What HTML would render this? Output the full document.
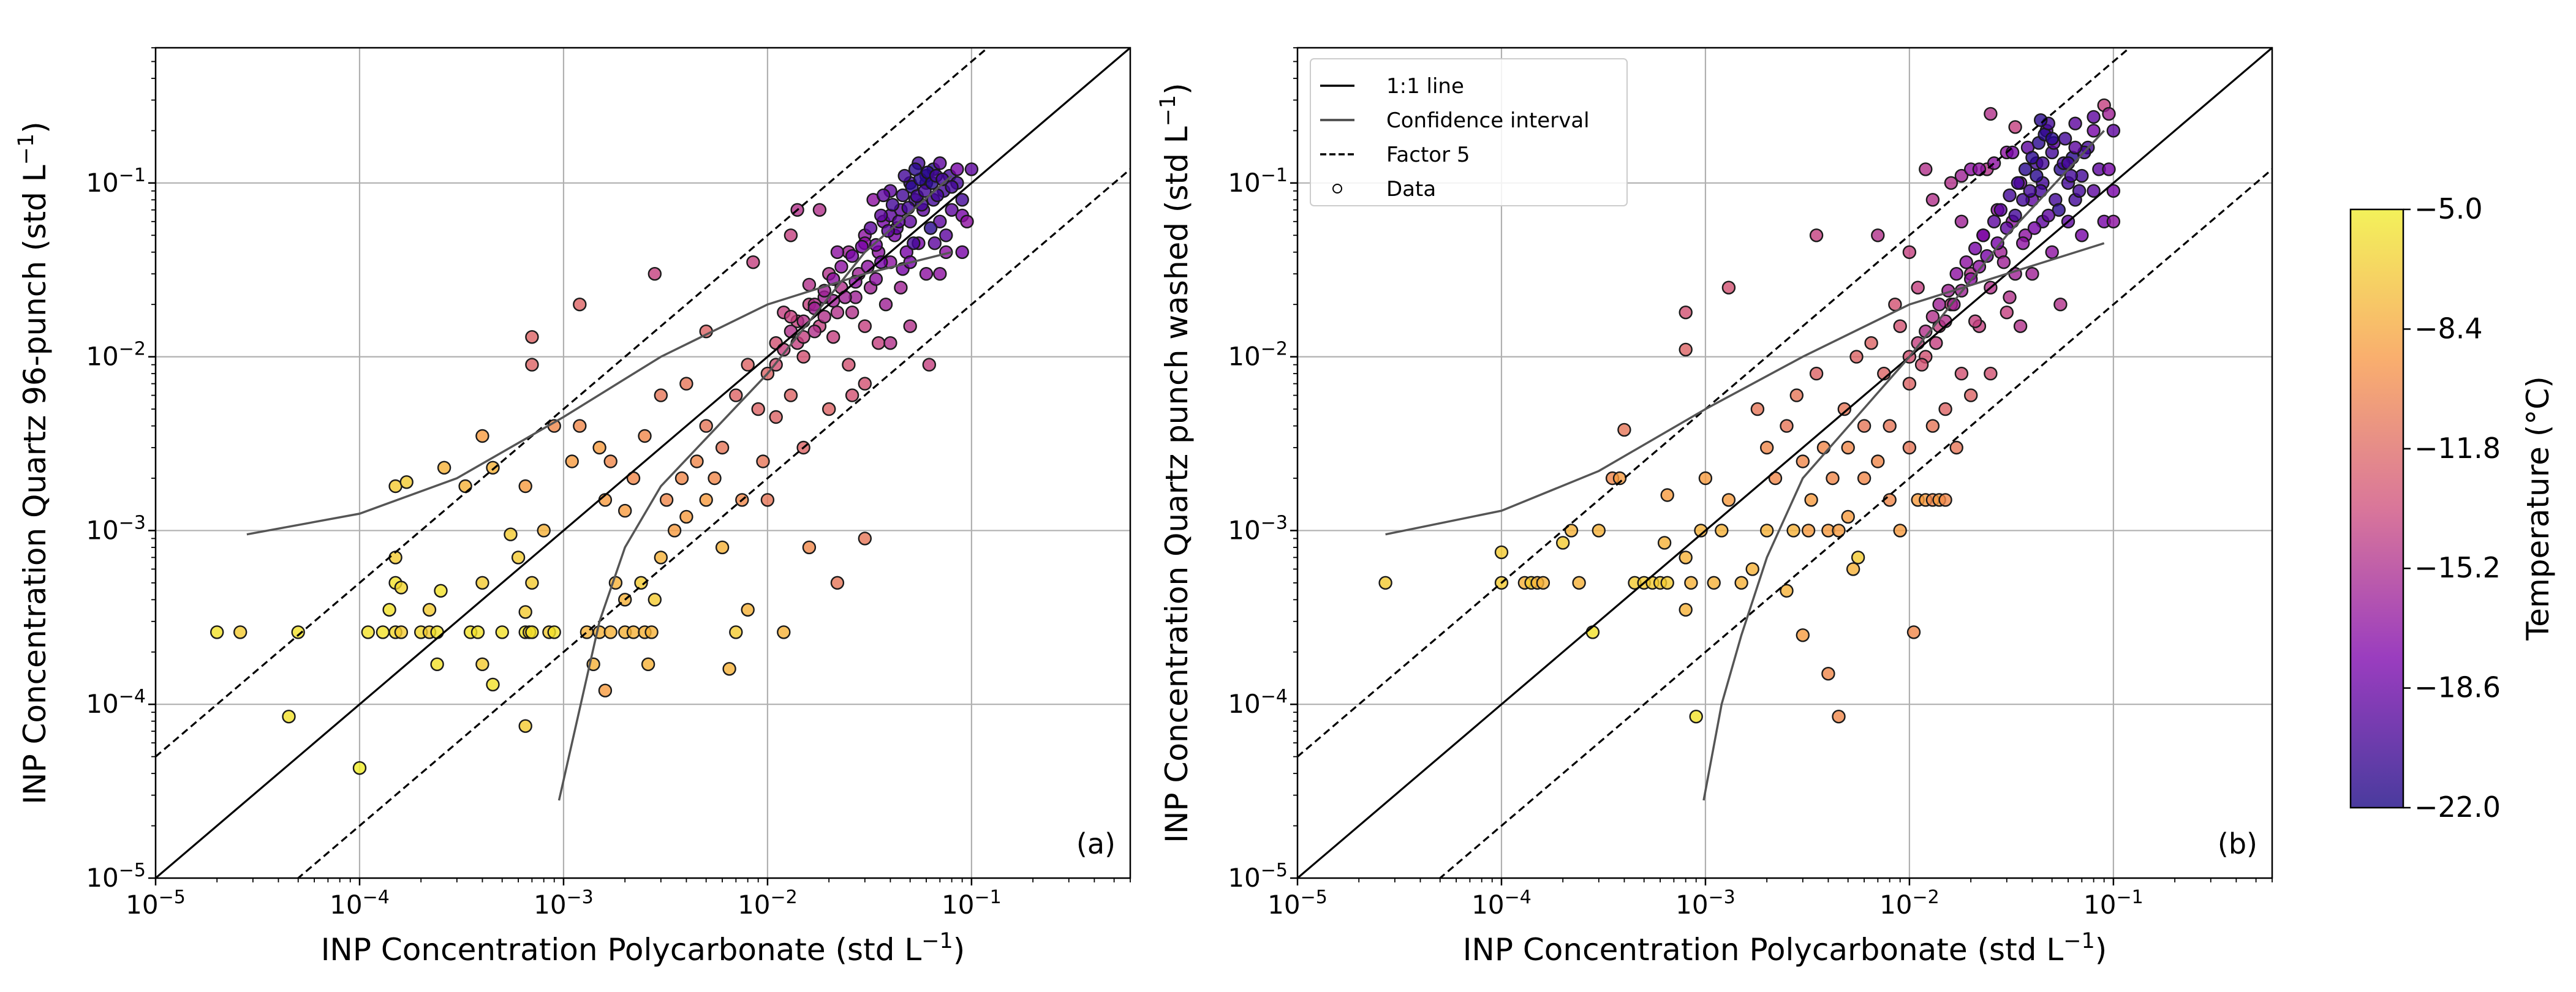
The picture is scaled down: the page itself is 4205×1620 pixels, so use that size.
<!DOCTYPE html>
<html><head><meta charset="utf-8">
<style>
html,body{margin:0;padding:0;background:#fff;width:4205px;height:1620px;overflow:hidden;}
svg{display:block;font-family:"DejaVu Sans","Liberation Sans",sans-serif;}
</style></head>
<body>
<svg id="fig" width="4205" height="1620" viewBox="0 0 4205 1620" xmlns="http://www.w3.org/2000/svg">
<defs>
<linearGradient id="cbgrad" x1="0" y1="1" x2="0" y2="0">
<stop offset="0" stop-color="#4a3b9e"/>
<stop offset="0.25" stop-color="#9a3dbf"/>
<stop offset="0.5" stop-color="#d9769a"/>
<stop offset="0.75" stop-color="#f9ae6e"/>
<stop offset="1" stop-color="#f3f15a"/>
</linearGradient>
</defs>
<g id="root"></g>
</svg>
<script>
// ---- data: panel (a) ----
const xA=[2e-5,2.6e-5,5e-5,4.5e-5,1e-4,1.1e-4,1.3e-4,1.5e-4,1.6e-4,1.4e-4,1.5e-4,1.6e-4,1.5e-4,1.7e-4,1.5e-4,2e-4,2.2e-4,2.4e-4,2.2e-4,2.4e-4,2.6e-4,2.5e-4,3.3e-4,3.5e-4,3.8e-4,4e-4,4.5e-4,4e-4,4e-4,4.5e-4,5e-4,5.5e-4,6e-4,6.5e-4,6.8e-4,7e-4,6.5e-4,6.5e-4,7e-4,7e-4,7e-4,6.5e-4,8e-4,8.5e-4,9e-4,9e-4,1.1e-3,1.3e-3,1.5e-3,1.4e-3,1.6e-3,1.7e-3,2e-3,2.2e-3,2.5e-3,2.7e-3,2.6e-3,1.2e-3,1.2e-3,1.6e-3,1.8e-3,2e-3,2.4e-3,2.8e-3,3e-3,1.5e-3,1.7e-3,2e-3,2.2e-3,2.5e-3,2.8e-3,3e-3,3.2e-3,3.5e-3,3.8e-3,4e-3,4.5e-3,5e-3,5e-3,5.5e-3,6e-3,6e-3,6.5e-3,7e-3,7e-3,7.5e-3,8e-3,8e-3,9e-3,9.5e-3,1e-2,1.1e-2,1.1e-2,1.2e-2,1.3e-2,1.2e-2,1.3e-2,1.5e-2,1.5e-2,1.6e-2,1.6e-2,1.8e-2,1.8e-2,2e-2,2e-2,2.1e-2,2.2e-2,2.3e-2,2.5e-2,2.5e-2,2.6e-2,2.8e-2,3e-2,3e-2,3e-2,3.2e-2,3.3e-2,3.5e-2,3.5e-2,3.7e-2,3.8e-2,4e-2,4e-2,4.2e-2,4.5e-2,4.5e-2,4.8e-2,5e-2,5e-2,5e-2,5.3e-2,5.5e-2,5.5e-2,5.8e-2,6e-2,6e-2,6.2e-2,6.5e-2,6.5e-2,7e-2,7e-2,7.3e-2,7.5e-2,7.8e-2,8e-2,8.5e-2,8.5e-2,9e-2,9.5e-2,1e-1,3e-2,1.4e-2,1e-2,8.5e-3,5e-3,4e-3,2.6e-2,4e-2,7e-2,9e-2,3.6e-2,4.3e-2,5.2e-2,5.7e-2,6.3e-2,6.8e-2,4.6e-2,3.4e-2,2.7e-2,2.2e-2,1.9e-2,1.7e-2,1.4e-2,6e-2,8e-2,5e-2,4e-2,3e-2,7.5e-2,9e-2,6.6e-2,
1.1e-2,1.2e-2,1.3e-2,1.4e-2,1.5e-2,1.5e-2,1.7e-2,1.7e-2,1.9e-2,1.9e-2,2.1e-2,2.1e-2,2.3e-2,2.4e-2,2.6e-2,2.7e-2,2.9e-2,3.1e-2,3.2e-2,3.4e-2,3.6e-2,3.9e-2,4.1e-2,4.4e-2,4.6e-2,4.9e-2,5.1e-2,5.4e-2,5.6e-2,5.9e-2,6.1e-2,6.4e-2,6.7e-2,7.2e-2,4.7e-2,5.3e-2,3.7e-2,2.2e-2,1.6e-2,1.3e-2];
const yA=[2.6e-4,2.6e-4,2.6e-4,8.5e-5,4.3e-5,2.6e-4,2.6e-4,2.6e-4,2.6e-4,3.5e-4,5e-4,4.7e-4,1.8e-3,1.9e-3,7e-4,2.6e-4,2.6e-4,2.6e-4,3.5e-4,1.7e-4,2.3e-3,4.5e-4,1.8e-3,2.6e-4,2.6e-4,1.7e-4,1.3e-4,5e-4,3.5e-3,2.3e-3,2.6e-4,9.5e-4,7e-4,2.6e-4,2.6e-4,2.6e-4,7.5e-5,1.8e-3,1.3e-2,9e-3,5e-4,3.4e-4,1e-3,2.6e-4,2.6e-4,4e-3,2.5e-3,2.6e-4,2.6e-4,1.7e-4,1.2e-4,2.6e-4,2.6e-4,2.6e-4,2.6e-4,2.6e-4,1.7e-4,2e-2,4e-3,1.5e-3,5e-4,4e-4,5e-4,4e-4,7e-4,3e-3,2.5e-3,1.3e-3,2e-3,3.5e-3,3e-2,6e-3,1.5e-3,1e-3,2e-3,1.2e-3,2.5e-3,1.5e-3,4e-3,2e-3,3e-3,8e-4,1.6e-4,2.6e-4,6e-3,1.5e-3,3.5e-4,9e-3,5e-3,2.5e-3,8e-3,1.2e-2,4.5e-3,2.6e-4,5e-2,1.8e-2,6e-3,1e-2,3e-3,8e-4,2e-2,1.5e-2,7e-2,5e-3,3e-2,1.3e-2,5e-4,2.5e-2,4e-2,9e-3,1.8e-2,3e-2,5e-2,1.5e-2,7e-3,2.5e-2,8e-2,4e-2,1.2e-2,6e-2,2e-2,3.5e-2,9e-2,5e-2,7e-2,2.5e-2,4e-2,1e-1,6e-2,1.5e-2,8e-2,4.5e-2,1.3e-1,7e-2,1e-1,3e-2,9e-3,8e-2,1.2e-1,6e-2,1.3e-1,9e-2,4e-2,1.1e-1,7e-2,1e-1,1.2e-1,6.5e-2,6e-2,1.2e-1,9e-4,7e-2,1.5e-3,3.5e-2,1.4e-2,7e-3,6e-3,1.2e-2,3e-2,4e-2,3.5e-2,5.5e-2,4.5e-2,7.5e-2,5.5e-2,8.5e-2,3.2e-2,2.8e-2,2.2e-2,1.8e-2,2.2e-2,2e-2,1.6e-2,1.1e-1,9.5e-2,3.5e-2,6.5e-2,4.5e-2,5e-2,8e-2,4.5e-2,
9e-3,1.1e-2,1.4e-2,1.2e-2,1.6e-2,1.3e-2,1.9e-2,1.4e-2,2.4e-2,1.7e-2,2.8e-2,2.1e-2,3.3e-2,2.2e-2,3.8e-2,2.7e-2,4.3e-2,3.3e-2,5.5e-2,4.4e-2,6.5e-2,5.3e-2,7.5e-2,6e-2,8.5e-2,7.2e-2,9.5e-2,8.4e-2,1.05e-1,9e-2,1.15e-1,1e-1,1.1e-1,1.05e-1,1.1e-1,1.2e-1,8.5e-2,4e-2,2.6e-2,1.7e-2];
const tA=[-6,-7,-6,-6,-5.5,-6,-6,-6.5,-7,-6,-6,-6.5,-7,-7,-7,-6.5,-7,-6,-7,-6,-8,-6,-8,-6,-6,-7,-6,-7,-9,-8,-6,-7,-7,-6,-7,-6,-7,-9,-12,-12,-7,-7,-8,-7,-6,-10,-9,-8,-8,-8,-9,-8,-8,-8,-8,-8,-8,-12,-10,-9,-8,-8,-7,-7,-8,-9,-10,-9,-10,-10,-14,-11,-10,-9,-10,-9,-10,-9,-11,-10,-11,-8,-8,-7,-12,-10,-8,-12,-12,-11,-12,-13,-12,-8,-14,-14,-12,-13,-12,-10,-14,-14,-15,-12,-15,-14,-11,-15,-16,-13,-15,-16,-17,-14,-13,-16,-17,-17,-14,-18,-16,-17,-19,-18,-19,-16,-18,-20,-19,-15,-20,-18,-20,-19,-20,-17,-14,-20,-21,-19,-19,-20,-17,-20,-19,-20,-18,-18,-17,-19,-11,-15,-11,-14,-12,-11,-13,-15,-17,-18,-18,-19,-20,-20,-21,-20,-18,-17,-16,-15,-16,-15,-14,-21,-20,-18,-19,-17,-19,-20,-19,
-13,-14,-15,-14,-15,-14,-16,-15,-16,-15,-17,-16,-17,-16,-18,-17,-18,-17,-19,-18,-19,-19,-20,-19,-20,-20,-21,-20,-21,-20,-21,-21,-20,-20,-20,-21,-19,-17,-15,-14];
// ---- data: panel (b) ----
const xB=[2.7e-5,1e-4,1e-4,1.3e-4,1.4e-4,1.5e-4,1.6e-4,2e-4,2.2e-4,2.4e-4,2.8e-4,3e-4,3.5e-4,3.8e-4,4e-4,4.5e-4,5e-4,5.5e-4,6e-4,6.5e-4,6.3e-4,6.5e-4,8e-4,8e-4,8e-4,8e-4,9e-4,8.5e-4,9.5e-4,1e-3,1.1e-3,1.2e-3,1.3e-3,1.3e-3,1.5e-3,1.7e-3,1.8e-3,2e-3,2e-3,2.2e-3,2.5e-3,2.5e-3,2.7e-3,2.8e-3,3e-3,3e-3,3.2e-3,3.3e-3,3.5e-3,3.5e-3,3.8e-3,4e-3,4e-3,4.2e-3,4.5e-3,4.5e-3,4.8e-3,5e-3,5e-3,5.3e-3,5.6e-3,5.5e-3,6e-3,6e-3,6.5e-3,7e-3,7e-3,7.5e-3,8e-3,8e-3,8.5e-3,9e-3,9e-3,1e-2,1e-2,1.05e-2,1.1e-2,1.1e-2,1.2e-2,1.3e-2,1.4e-2,1.5e-2,1.2e-2,1.3e-2,1.3e-2,1.4e-2,1.5e-2,1.6e-2,1.6e-2,1.7e-2,1.8e-2,1.8e-2,2e-2,2e-2,2e-2,2.2e-2,2.3e-2,2.4e-2,2.5e-2,2.5e-2,2.7e-2,2.8e-2,3e-2,3e-2,3.2e-2,3.3e-2,3.5e-2,3.5e-2,3.7e-2,3.8e-2,4e-2,4e-2,4.2e-2,4.5e-2,4.5e-2,4.7e-2,5e-2,5e-2,5.2e-2,5.5e-2,5.5e-2,5.8e-2,6e-2,6e-2,6.3e-2,6.5e-2,6.5e-2,7e-2,7e-2,7.5e-2,8e-2,8e-2,8.5e-2,9e-2,9e-2,1e-1,1e-1,9.5e-2,2.5e-2,3.3e-2,1e-2,1.2e-2,4.4e-2,5.4e-2,6.2e-2,3.6e-2,4.8e-2,6.8e-2,2.9e-2,5.7e-2,4.1e-2,3.1e-2,2.1e-2,7.2e-2,5.1e-2,
1e-2,1.1e-2,1.15e-2,1.2e-2,1.3e-2,1.35e-2,1.4e-2,1.5e-2,1.55e-2,1.65e-2,1.7e-2,1.8e-2,1.9e-2,2e-2,2.1e-2,2.2e-2,2.3e-2,2.4e-2,2.6e-2,2.7e-2,2.8e-2,3e-2,3.1e-2,3.3e-2,3.4e-2,3.6e-2,3.7e-2,3.9e-2,4e-2,4.2e-2,4.3e-2,4.5e-2,4.6e-2,4.8e-2,4.4e-2,5e-2,3.2e-2,2.6e-2,2.2e-2,1.8e-2,6.5e-2,6e-2,8e-2,9.5e-2,1e-1];
const yB=[5e-4,5e-4,7.5e-4,5e-4,5e-4,5e-4,5e-4,8.5e-4,1e-3,5e-4,2.6e-4,1e-3,2e-3,2e-3,3.8e-3,5e-4,5e-4,5e-4,5e-4,5e-4,8.5e-4,1.6e-3,1.8e-2,1.1e-2,7e-4,3.5e-4,8.5e-5,5e-4,1e-3,2e-3,5e-4,1e-3,2.5e-2,1.5e-3,5e-4,6e-4,5e-3,1e-3,3e-3,2e-3,4.5e-4,4e-3,1e-3,6e-3,2.5e-3,2.5e-4,1e-3,1.5e-3,5e-2,8e-3,3e-3,1e-3,1.5e-4,2e-3,1e-3,8.5e-5,5e-3,3e-3,1.2e-3,6e-4,7e-4,1e-2,4e-3,2e-3,1.2e-2,2.5e-3,5e-2,8e-3,1.5e-3,4e-3,2e-2,1e-3,1.5e-2,3e-3,7e-3,2.6e-4,1.5e-3,2.5e-2,1.5e-3,1.5e-3,1.5e-3,1.5e-3,1e-2,8e-2,4e-3,1.5e-2,5e-3,1e-1,2e-2,3e-3,1.1e-1,8e-3,3e-2,1.2e-1,6e-3,1.5e-2,5e-2,1.2e-1,2.5e-2,8e-3,7e-2,4e-2,1.5e-1,1.8e-2,6e-2,3e-2,1e-1,1.5e-2,5e-2,1.6e-1,8e-2,3e-2,1.3e-1,6e-2,1e-1,2e-1,4e-2,1.5e-1,8e-2,1.2e-1,2e-2,1.8e-1,1e-1,6e-2,1.4e-1,2.2e-1,8e-2,1.1e-1,5e-2,1.6e-1,9e-2,2e-1,1.2e-1,2.8e-1,6e-2,2e-1,6e-2,2.5e-1,2.5e-1,2.1e-1,4e-2,1.2e-1,9e-2,7e-2,1.1e-1,4.5e-2,6.5e-2,9e-2,3.5e-2,1.3e-1,5.5e-2,2.2e-2,1.6e-2,1.5e-1,1.7e-1,
1e-2,1.2e-2,9e-3,1.4e-2,1.7e-2,1.2e-2,2e-2,1.6e-2,2.4e-2,2e-2,3e-2,2.4e-2,3.5e-2,2.8e-2,4.2e-2,3.3e-2,5e-2,3.8e-2,6e-2,4.5e-2,7e-2,5.5e-2,8.5e-2,6.5e-2,1e-1,8e-2,1.2e-1,9e-2,1.4e-1,1.1e-1,1.7e-1,1.3e-1,1.9e-1,2.2e-1,2.3e-1,1.8e-1,1.5e-1,1.3e-1,1.2e-1,6e-2,1.6e-1,1.3e-1,2.4e-1,1.2e-1,9e-2];
const tB=[-7,-7,-7,-8,-7,-8,-8,-7,-8,-8,-6,-8,-10,-9,-11,-7,-7,-7,-7,-7,-8,-9,-13,-12,-8,-8,-6,-8,-8,-9,-8,-8,-13,-9,-8,-8,-11,-8,-10,-10,-8,-11,-8,-11,-10,-9,-9,-9,-14,-12,-10,-9,-10,-10,-9,-10,-11,-10,-9,-8,-7,-12,-11,-10,-12,-10,-15,-12,-10,-11,-13,-9,-13,-11,-12,-10,-9,-14,-9,-10,-9,-10,-13,-15,-11,-14,-12,-15,-14,-11,-16,-13,-15,-17,-12,-14,-16,-15,-15,-13,-17,-16,-17,-14,-17,-16,-18,-15,-17,-19,-19,-16,-20,-19,-20,-19,-17,-20,-20,-21,-15,-20,-20,-19,-21,-19,-20,-20,-18,-20,-19,-18,-19,-14,-18,-19,-17,-16,-15,-14,-14,-15,-20,-21,-20,-17,-19,-20,-16,-20,-18,-15,-14,-20,-19,
-13,-14,-13,-15,-15,-14,-16,-15,-16,-16,-17,-16,-17,-17,-18,-17,-18,-18,-19,-18,-19,-19,-20,-20,-20,-20,-21,-20,-21,-21,-21,-20,-21,-20,-21,-21,-18,-17,-17,-16,-19,-20,-19,-18,-18];
// confidence interval curves
const ciUpAx=[2.8e-5,1e-4,3e-4,1e-3,3e-3,1e-2,3e-2,8e-2];
const ciUpAy=[9.5e-4,1.25e-3,2e-3,4.5e-3,1e-2,2e-2,3e-2,4e-2];
const ciLoAx=[9.5e-4,1.1e-3,1.5e-3,2e-3,3e-3,1e-2,3e-2,8e-2];
const ciLoAy=[2.8e-5,6e-5,3e-4,8e-4,1.8e-3,8e-3,4e-2,1.1e-1];
const ciUpBx=[2.7e-5,1e-4,3e-4,1e-3,3e-3,1e-2,3e-2,9e-2];
const ciUpBy=[9.5e-4,1.3e-3,2.2e-3,5e-3,1e-2,2e-2,3e-2,4.5e-2];
const ciLoBx=[9.8e-4,1.2e-3,1.5e-3,2e-3,3e-3,1e-2,3e-2,9e-2];
const ciLoBy=[2.8e-5,1e-4,2.5e-4,7e-4,2e-3,1e-2,5e-2,2e-1];
const cbTicks=[-5.0,-8.4,-11.8,-15.2,-18.6,-22.0];
const xTickExp=[-5,-4,-3,-2,-1];
const yTickExp=[-5,-4,-3,-2,-1];

const NS="http://www.w3.org/2000/svg";
const root=document.getElementById('root');
function el(tag,attrs,parent){const e=document.createElementNS(NS,tag);for(const k in attrs)e.setAttribute(k,attrs[k]);(parent||root).appendChild(e);return e;}
const LMIN=-5,LMAX=Math.log10(0.6);
const TOP=78,BOT=1434;
function mkScale(x0,x1){return{x:v=>x0+(Math.log10(v)-LMIN)/(LMAX-LMIN)*(x1-x0),y:v=>BOT-(Math.log10(v)-LMIN)/(LMAX-LMIN)*(BOT-TOP)};}
const stops=[[0,[13,8,135]],[0.25,[126,3,168]],[0.5,[204,71,120]],[0.75,[248,149,64]],[1,[240,249,33]]];
function cmap(t){let f=(t+22)/17;f=Math.max(0,Math.min(1,f));for(let i=0;i<4;i++){const a=stops[i],b=stops[i+1];if(f<=b[0]){const u=(f-a[0])/(b[0]-a[0]);const c=a[1].map((v,j)=>Math.round(v+(b[1][j]-v)*u));return 'rgb('+c.join(',')+')';}}return 'rgb(240,249,33)';}

function panel(x0,x1,xs,ys,ts,cux,cuy,clx,cly,tag,letter,ylabel,legend){
  const s=mkScale(x0,x1);
  const g=el('g',{});
  
  
  xTickExp.forEach(e=>{const l=el('line',{x1:s.x(Math.pow(10,e)),x2:s.x(Math.pow(10,e)),y1:TOP,y2:BOT,stroke:'#b0b0b0','stroke-width':2.2},g);});
  yTickExp.forEach(e=>{const l=el('line',{y1:s.y(Math.pow(10,e)),y2:s.y(Math.pow(10,e)),x1:x0,x2:x1,stroke:'#b0b0b0','stroke-width':2.2},g);});
  const clipId='clip'+tag;
  const cp=el('clipPath',{id:clipId},g);el('rect',{x:x0,y:TOP,width:x1-x0,height:BOT-TOP},cp);
  const pg=el('g',{'clip-path':'url(#'+clipId+')'},g);
  for(let i=0;i<xs.length;i++){
    const c=el('circle',{cx:s.x(xs[i]).toFixed(1),cy:s.y(ys[i]).toFixed(1),r:10,fill:cmap(ts[i]),'fill-opacity':0.8,stroke:'#1a1a1a','stroke-width':2.4},pg);
    
    
  }
  const lo=1e-6,hi=10;
  const one=el('line',{x1:s.x(lo),y1:s.y(lo),x2:s.x(hi),y2:s.y(hi),stroke:'#000','stroke-width':3.2},pg);
  
  const f1=el('line',{x1:s.x(lo),y1:s.y(lo*5),x2:s.x(hi),y2:s.y(hi*5),stroke:'#000','stroke-width':3.2,'stroke-dasharray':'12,7'},pg);
  
  const f2=el('line',{x1:s.x(lo),y1:s.y(lo/5),x2:s.x(hi),y2:s.y(hi/5),stroke:'#000','stroke-width':3.2,'stroke-dasharray':'12,7'},pg);
  
  const pu=el('polyline',{points:cux.map((v,i)=>s.x(v).toFixed(1)+','+s.y(cuy[i]).toFixed(1)).join(' '),fill:'none',stroke:'#555','stroke-width':3.5},pg);
  
  const pl=el('polyline',{points:clx.map((v,i)=>s.x(v).toFixed(1)+','+s.y(cly[i]).toFixed(1)).join(' '),fill:'none',stroke:'#555','stroke-width':3.5},pg);
  
  const fr=el('rect',{x:x0,y:TOP,width:x1-x0,height:BOT-TOP,fill:'none',stroke:'#000','stroke-width':2.5},g);
  
  for(let e=-5;e<=0;e++){for(let m=1;m<10;m++){const v=m*Math.pow(10,e);if(Math.log10(v)>LMAX+1e-9)break;const big=m===1;const L=big?12:7;
    const px=s.x(v),py=s.y(v);
    el('line',{x1:px,x2:px,y1:BOT,y2:BOT+L,stroke:'#000','stroke-width':big?2.5:1.8},g);
    el('line',{x1:x0,x2:x0-L,y1:py,y2:py,stroke:'#000','stroke-width':big?2.5:1.8},g);}}
  xTickExp.forEach(e=>{const t=el('text',{x:s.x(Math.pow(10,e)),y:BOT+58,'text-anchor':'middle','font-size':42},g);t.innerHTML='10<tspan dy="-17" font-size="30">\u2212'+(-e)+'</tspan>';});
  yTickExp.forEach(e=>{const t=el('text',{x:x0-16,y:s.y(Math.pow(10,e))+14,'text-anchor':'end','font-size':42},g);t.innerHTML='10<tspan dy="-17" font-size="30">\u2212'+(-e)+'</tspan>';});
  const xl=el('text',{x:(x0+x1)/2,y:1568,'text-anchor':'middle','font-size':50},g);
  xl.innerHTML='INP Concentration Polycarbonate (std L<tspan dy="-20" font-size="35">\u22121</tspan><tspan dy="20">)</tspan>';
  
  const ylx=x0-180,yly=(TOP+BOT)/2;
  const yl=el('text',{x:ylx,y:yly,'text-anchor':'middle','font-size':50,transform:'rotate(-90 '+ylx+' '+yly+')'},g);
  yl.innerHTML=ylabel+' (std L<tspan dy="-20" font-size="35">\u22121</tspan><tspan dy="20">)</tspan>';
  
  const pt=el('text',{x:x1-24,y:BOT-40,'text-anchor':'end','font-size':46},g);pt.textContent=letter;
  
  if(legend){
    const lg=el('g',{},g);
    el('rect',{x:2139,y:96,width:517,height:240,rx:6,fill:'#fff','fill-opacity':0.85,stroke:'#ccc','stroke-width':2},lg);
    const items=[['1:1 line','solid'],['Confidence interval','ci'],['Factor 5','dash'],['Data','dot']];
    items.forEach((it,i)=>{const yy=140+i*56;
      const e=el('g',{},lg);
      if(it[1]==='dot')el('circle',{cx:2183,cy:yy,r:7,fill:'none',stroke:'#000','stroke-width':2},e);
      else el('line',{x1:2155,x2:2211,y1:yy,y2:yy,stroke:it[1]==='ci'?'#555':'#000','stroke-width':it[1]==='ci'?4:3.5,'stroke-dasharray':it[1]==='dash'?'10,5':'none'},e);
      const t=el('text',{x:2263,y:yy+12,'font-size':34},e);t.textContent=it[0];});
  }
}
panel(254,1845,xA,yA,tA,ciUpAx,ciUpAy,ciLoAx,ciLoAy,'a','(a)','INP Concentration Quartz 96-punch',false);
panel(2118,3709,xB,yB,tB,ciUpBx,ciUpBy,ciLoBx,ciLoBy,'b','(b)','INP Concentration Quartz punch washed',true);
const cb=el('g',{});
const CBT=342,CBB=1319,CBX=3837,CBW=86;
el('rect',{x:CBX,y:CBT,width:CBW,height:CBB-CBT,fill:'url(#cbgrad)',stroke:'#000','stroke-width':2.5},cb);
cbTicks.forEach(v=>{const y=CBB-(v+22)/17*(CBB-CBT);
  el('line',{x1:CBX+CBW,x2:CBX+CBW+12,y1:y,y2:y,stroke:'#000','stroke-width':2.5},cb);
  const t=el('text',{x:CBX+CBW+18,y:y+15,'font-size':46},cb);t.textContent=v.toFixed(1).replace('-','\u2212');
  });
const ct=el('text',{x:4160,y:830,'text-anchor':'middle','font-size':50,transform:'rotate(-90 4160 830)'},cb);
ct.textContent='Temperature (\u00b0C)';

</script>
</body></html>
